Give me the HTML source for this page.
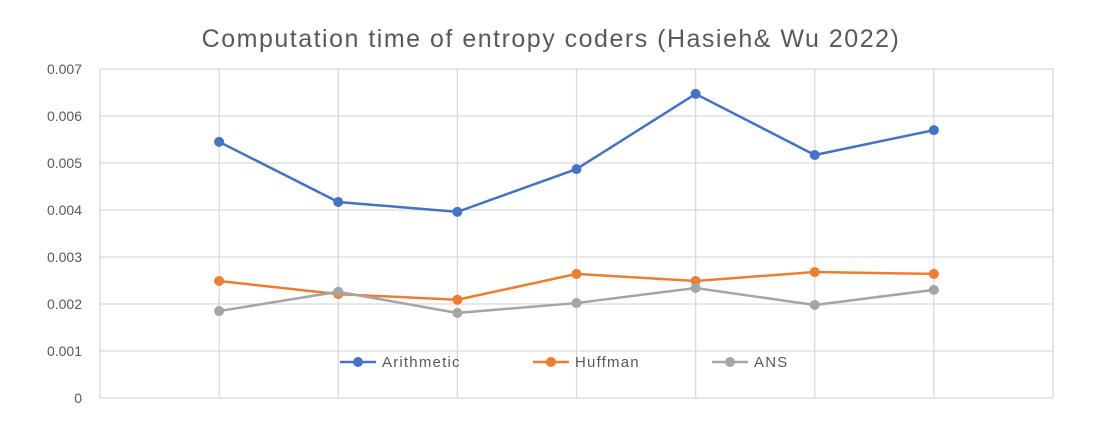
<!DOCTYPE html>
<html><head><meta charset="utf-8"><style>
html,body{margin:0;padding:0;background:#fff;}
svg{display:block;font-family:"Liberation Sans","Noto Sans CJK JP",sans-serif;}
</style></head><body>
<svg id="chart" width="1102" height="444">
<text x="551" y="47" text-anchor="middle" font-size="25" letter-spacing="1.5" fill="#595959">Computation time of entropy coders (Hasieh&amp; Wu 2022)</text>
<g id="grid"></g><g id="series"></g><g id="legend"></g>
</svg>
<script>
const categories = ["1","2","3","4","5","6","7"];
const arithmetic = [0.00545,0.00417,0.00396,0.00487,0.00647,0.00517,0.0057];
const huffman = [0.00249,0.00221,0.00209,0.00264,0.00249,0.00268,0.00264];
const ans = [0.00185,0.00226,0.00181,0.00202,0.00234,0.00198,0.0023];
const yTicks = [0,0.001,0.002,0.003,0.004,0.005,0.006,0.007];
const yTickLabels = ["0","0.001","0.002","0.003","0.004","0.005","0.006","0.007"];
const seriesNames = ["Arithmetic","Huffman","ANS"];

const NS="http://www.w3.org/2000/svg";
const L=100,R=1053,T=69,B=398,ymax=0.007,step=(R-L)/8;
const xs=i=>L+(i+1)*step;
const ys=v=>B-(v/ymax)*(B-T);
function mk(tag,attrs,parent){const e=document.createElementNS(NS,tag);for(const k in attrs)e.setAttribute(k,attrs[k]);parent.appendChild(e);return e;}
const grid=document.getElementById('grid');
yTicks.forEach((t,i)=>{
  const ln=mk('line',{x1:L,x2:R,y1:ys(t),y2:ys(t),stroke:'#d9d9d9','stroke-width':1.3},grid);
  
  
  const tx=mk('text',{x:82,y:ys(t)+5,'text-anchor':'end','font-size':14,fill:'#595959'},grid);
  tx.textContent=yTickLabels[i];
  
  
});
for(let i=0;i<=8;i++){
  const ln=mk('line',{x1:L+i*step,x2:L+i*step,y1:T,y2:B,stroke:'#d9d9d9','stroke-width':1.3},grid);
  
  
}
const colors=['#4472c4','#ed7d31','#a5a5a5'];
const data=[arithmetic,huffman,ans];
const sg=document.getElementById('series');
data.forEach((d,s)=>{
  const pts=d.map((v,i)=>xs(i)+','+ys(v)).join(' ');
  const pl=mk('polyline',{points:pts,fill:'none',stroke:colors[s],'stroke-width':2.5},sg);
  
  
  d.forEach((v,i)=>{
    const c=mk('circle',{cx:xs(i),cy:ys(v),r:5,fill:colors[s]},sg);
    
    
  });
});
const lg=document.getElementById('legend');
const lx=[340,533,712];
seriesNames.forEach((n,s)=>{
  const g=mk('g',{},lg);
  
  
  mk('line',{x1:lx[s],x2:lx[s]+36,y1:362,y2:362,stroke:colors[s],'stroke-width':2.5},g);
  mk('circle',{cx:lx[s]+18,cy:362,r:5,fill:colors[s]},g);
  const t=mk('text',{x:lx[s]+42,y:367,'font-size':15,'letter-spacing':1.2,fill:'#595959'},g);
  t.textContent=n;
});
</script>
</body></html>
